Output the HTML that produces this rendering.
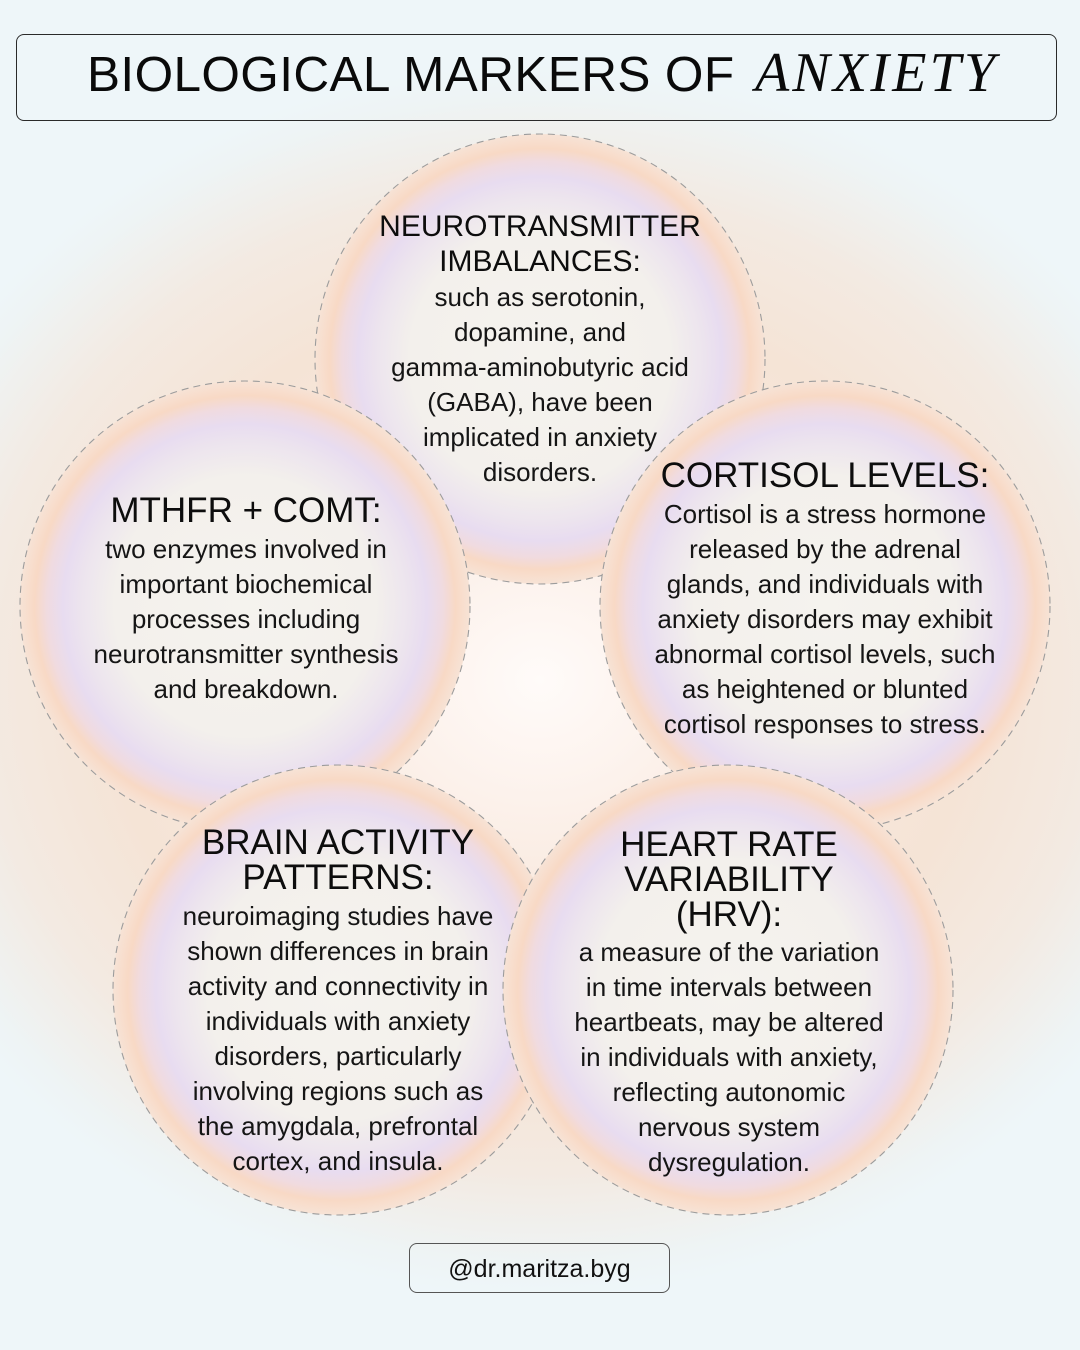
<!DOCTYPE html>
<html>
<head>
<meta charset="utf-8">
<style>
  html,body{margin:0;padding:0;}
  body{width:1080px;height:1350px;position:relative;overflow:hidden;background:#eef6f9;font-family:"Liberation Sans",Arial,sans-serif;color:#111;}
  svg.bg{position:absolute;left:0;top:0;}
  .t{position:absolute;text-align:center;white-space:nowrap;width:520px;}
  .h{font-size:35px;line-height:35px;color:#0d0d0d;}
  .b{font-size:26px;line-height:35px;color:#151515;}
  .titlebox{position:absolute;left:16px;top:34px;width:1039px;height:85px;border:1px solid #2a2a2a;border-radius:8px;}
  .ts{position:absolute;left:87px;top:45px;font-size:49.5px;line-height:60px;letter-spacing:0.4px;color:#0a0a0a;white-space:nowrap;}
  .ti{position:absolute;left:755px;top:43px;font-family:"Liberation Serif",serif;font-style:italic;font-size:56px;line-height:60px;letter-spacing:3.2px;color:#0a0a0a;white-space:nowrap;}
  .foot{position:absolute;left:409px;top:1243px;width:259px;height:48px;border:1px solid #555;border-radius:8px;}
  .ft{position:absolute;left:409px;top:1252px;width:261px;text-align:center;font-size:25px;line-height:34px;color:#111;}
</style>
</head>
<body>
<svg class="bg" width="1080" height="1350" viewBox="0 0 1080 1350">
  <defs>
    <radialGradient id="glow" cx="540" cy="680" r="700" gradientUnits="userSpaceOnUse" gradientTransform="translate(540 680) scale(1 0.88) translate(-540 -680)">
      <stop offset="0" stop-color="#fffbf9"/>
      <stop offset="0.15" stop-color="#fdf4ef"/>
      <stop offset="0.4" stop-color="#f8e8dc"/>
      <stop offset="0.62" stop-color="#f5e4d6"/>
      <stop offset="0.8" stop-color="#f3eae2"/>
      <stop offset="0.95" stop-color="#eef4f5"/>
      <stop offset="1" stop-color="#eef6f9"/>
    </radialGradient>
    <radialGradient id="cf" cx="0.5" cy="0.5" r="0.5">
      <stop offset="0" stop-color="#f5f3ee"/>
      <stop offset="0.58" stop-color="#f3f0ec"/>
      <stop offset="0.72" stop-color="#ede5ee"/>
      <stop offset="0.81" stop-color="#e8dcf0"/>
      <stop offset="0.88" stop-color="#f0dbe0"/>
      <stop offset="0.935" stop-color="#f8d9c5"/>
      <stop offset="1" stop-color="#f7e3d6"/>
    </radialGradient>
  </defs>
  <rect x="0" y="0" width="1080" height="1350" fill="#eef6f9"/>
  <rect x="0" y="0" width="1080" height="1350" fill="url(#glow)"/>
  <g stroke="#9c9c9c" stroke-width="1.1" stroke-dasharray="7 5" fill="url(#cf)">
    <circle cx="540" cy="359" r="225"/>
    <circle cx="245" cy="606" r="225"/>
    <circle cx="825" cy="606" r="225"/>
    <circle cx="338" cy="990" r="225"/>
    <circle cx="728" cy="990" r="225"/>
  </g>
</svg>

<div class="titlebox"></div>
<div class="ts">BIOLOGICAL MARKERS OF</div>
<div class="ti">ANXIETY</div>

<!-- Top circle -->
<div class="t h" style="left:280px;top:209px;font-size:30px;">NEUROTRANSMITTER<br>IMBALANCES:</div>
<div class="t b" style="left:280px;top:280px;">such as serotonin,<br>dopamine, and<br>gamma-aminobutyric acid<br>(GABA), have been<br>implicated in anxiety<br>disorders.</div>

<!-- Left circle -->
<div class="t h" style="left:-14px;top:493px;">MTHFR + COMT:</div>
<div class="t b" style="left:-14px;top:532px;">two enzymes involved in<br>important biochemical<br>processes including<br>neurotransmitter synthesis<br>and breakdown.</div>

<!-- Right circle -->
<div class="t h" style="left:565px;top:458px;">CORTISOL LEVELS:</div>
<div class="t b" style="left:565px;top:497px;">Cortisol is a stress hormone<br>released by the adrenal<br>glands, and individuals with<br>anxiety disorders may exhibit<br>abnormal cortisol levels, such<br>as heightened or blunted<br>cortisol responses to stress.</div>

<!-- Brain circle -->
<div class="t h" style="left:78px;top:825px;">BRAIN ACTIVITY<br>PATTERNS:</div>
<div class="t b" style="left:78px;top:899px;">neuroimaging studies have<br>shown differences in brain<br>activity and connectivity in<br>individuals with anxiety<br>disorders, particularly<br>involving regions such as<br>the amygdala, prefrontal<br>cortex, and insula.</div>

<!-- HRV circle -->
<div class="t h" style="left:469px;top:827px;">HEART RATE<br>VARIABILITY<br>(HRV):</div>
<div class="t b" style="left:469px;top:935px;">a measure of the variation<br>in time intervals between<br>heartbeats, may be altered<br>in individuals with anxiety,<br>reflecting autonomic<br>nervous system<br>dysregulation.</div>

<div class="foot"></div>
<div class="ft">@dr.maritza.byg</div>
</body>
</html>
